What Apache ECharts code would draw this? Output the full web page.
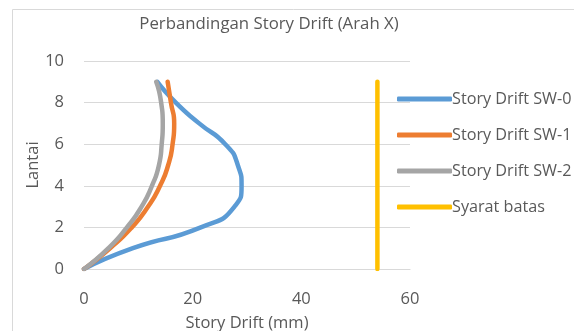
<!DOCTYPE html>
<html>
<head>
<meta charset="utf-8">
<script src="https://cdn.jsdelivr.net/npm/echarts@6/dist/echarts.min.js"></script>
<style>
  html, body { margin: 0; padding: 0; background: #ffffff; }
  #chart { width: 574px; height: 331px; }
</style>
</head>
<body>
<div id="chart"></div>
<script>
// Floors (Lantai) 0..9
const floors = [0, 1, 2, 3, 4, 5, 6, 7, 8, 9];
// Story drift per floor (mm)
const driftSW0 = [0, 9, 21.5, 27.7, 29, 28.3, 26, 21.2, 16.9, 13.5];
const driftSW1 = [0, 4.8, 8.8, 11.8, 14, 15.5, 16.3, 16.6, 16.0, 15.4];
const driftSW2 = [0, 4.5, 7.9, 10.6, 12.5, 13.8, 14.3, 14.5, 14.2, 13.3];
// Drift limit line
const limitX = [54, 54];
const limitY = [0, 9];

const seriesNames = ['Story Drift SW-0', 'Story Drift SW-1', 'Story Drift SW-2', 'Syarat batas'];
const colors = ['#5B9BD5', '#ED7D31', '#A5A5A5', '#FFC000'];

const pairs = (xs, ys) => xs.map((x, i) => [x, ys[i]]);

const font = '"Open Sans", Lato, sans-serif';
const textColor = '#595959';

const chart = echarts.init(document.getElementById('chart'));

function lineSeries(name, data, color, smooth) {
  return {
    name: name,
    type: 'line',
    data: data,
    smooth: smooth,
    showSymbol: false,
    symbol: 'none',
    lineStyle: { color: color, width: 4.5, cap: 'round', join: 'round' },
    itemStyle: { color: color },
    animation: false
  };
}

chart.setOption({
  animation: false,
  title: {
    text: 'Perbandingan Story Drift (Arah X)',
    left: 264,
    top: 11,
    textAlign: 'center',
    textStyle: { fontFamily: font, fontSize: 16.8, fontWeight: 'normal', color: textColor }
  },
  graphic: [{
    type: 'rect',
    shape: { x: 12.5, y: 9.5, width: 600, height: 400 },
    style: { fill: 'none', stroke: '#d9d9d9', lineWidth: 1 },
    silent: true,
    z: -1
  }],
  legend: {
    orient: 'vertical',
    left: 392,
    top: 86,
    itemWidth: 55,
    itemHeight: 5,
    itemGap: 20,
    icon: 'roundRect',
    data: seriesNames,
    textStyle: { fontFamily: font, fontSize: 16.2, color: textColor, padding: [0, 0, 0, -5] }
  },
  grid: { left: 84, right: 164, top: 61, bottom: 62, outerBoundsMode: 'none', containLabel: false },
  xAxis: {
    type: 'value',
    min: 0,
    max: 60,
    interval: 20,
    name: 'Story Drift (mm)',
    nameLocation: 'middle',
    nameGap: 46,
    nameMoveOverlap: false,
    nameTextStyle: { fontFamily: font, fontSize: 16.5, color: textColor },
    axisLine: { show: true, lineStyle: { color: '#d9d9d9', width: 1.2 } },
    axisTick: { show: false },
    axisLabel: { fontFamily: font, fontSize: 16.5, color: textColor, margin: 22 },
    splitLine: { show: false }
  },
  yAxis: {
    type: 'value',
    min: 0,
    max: 10,
    interval: 2,
    name: 'Lantai',
    nameLocation: 'middle',
    nameGap: 42,
    nameMoveOverlap: false,
    nameRotate: 90,
    nameTextStyle: { fontFamily: font, fontSize: 16.5, color: textColor },
    axisLine: { show: false },
    axisTick: { show: false },
    axisLabel: { fontFamily: font, fontSize: 16.5, color: textColor, margin: 20 },
    splitLine: { show: true, lineStyle: { color: '#d9d9d9', width: 1.2 } }
  },
  series: [
    lineSeries(seriesNames[0], pairs(driftSW0, floors), colors[0], 0.6),
    lineSeries(seriesNames[1], pairs(driftSW1, floors), colors[1], 0.6),
    lineSeries(seriesNames[2], pairs(driftSW2, floors), colors[2], 0.6),
    lineSeries(seriesNames[3], pairs(limitX, limitY), colors[3], false)
  ]
});
</script>
</body>
</html>
